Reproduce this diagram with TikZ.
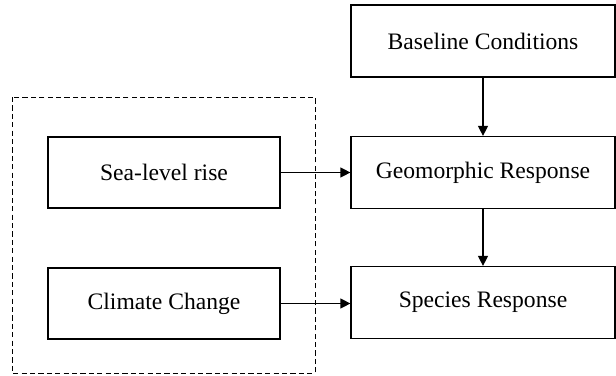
\documentclass[tikz,border=0pt]{standalone}
\usepackage{fontspec}
\setmainfont{Liberation Serif}
\usetikzlibrary{arrows.meta, positioning}

\begin{document}
\begin{tikzpicture}[x=0.5pt, y=-0.5pt, every node/.style={font=\fontsize{11.8}{14}\selectfont}]
  \tikzset{driver/.style={draw, line width=0.6pt, minimum width=116pt, minimum height=35.5pt, inner sep=0pt},
           response/.style={draw, line width=0.6pt, minimum width=132pt, minimum height=36pt, inner sep=0pt},
           link/.style={line width=0.6pt, -{Triangle[length=5pt, width=5pt]}}}
  \useasboundingbox (0,0) rectangle (616,375);
  \draw[line width=0.5pt, dash pattern=on 2.6pt off 1.6pt] (12,97) rectangle (315,373);
  \node[driver]   (slr)  at (164,172.5) {Sea-level rise};
  \node[driver]   (clim) at (164,303.5) {Climate Change};
  \node[response] (base) at (483,41)    {Baseline Conditions};
  \node[response] (geo)  at (483,172.5) {Geomorphic Response};
  \node[response] (spec) at (483,302.5) {Species Response};
  \draw[link] (slr) -- (geo);
  \draw[link] (clim.east) -- (clim.east -| spec.west);
  \draw[link] (base) -- (geo);
  \draw[link] (geo) -- (spec);
\end{tikzpicture}
\end{document}
